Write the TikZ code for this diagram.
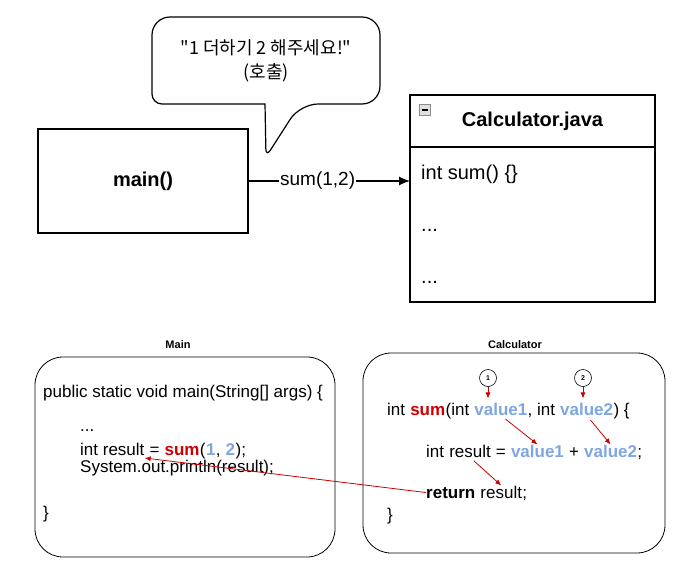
\documentclass[tikz,border=0pt]{standalone}
\usepackage{fontspec}
\setmainfont{Liberation Sans}
\newfontfamily\krfont{Noto Sans CJK KR}
\usetikzlibrary{positioning,arrows.meta}
\definecolor{sumred}{RGB}{204,0,0}
\definecolor{valblue}{RGB}{126,166,224}
\newcommand\codefont{\fontsize{17}{20}\selectfont}
\newcommand\bigfont{\fontsize{20}{24}\selectfont}
\newcommand\wordgap{\kern\fontdimen2\font}
\tikzset{box/.style={
    rectangle,
    draw,
    line width=1.2pt,
    outer sep=0pt
  },
  frame/.style={rectangle,draw,line width=0.8pt,rounded corners=28pt},
  code/.style={font=\codefont,inner sep=0pt,anchor=base west},
  redword/.style={code,text=sumred,font=\codefont\bfseries},
  blueword/.style={code,text=valblue,font=\codefont\bfseries},
  item/.style={font=\bigfont,inner sep=0pt,anchor=base west},
  flow/.style={sumred,line width=0.8pt,-{Latex[length=6pt,width=5pt]}},
  numcirc/.style={circle,draw,line width=0.6pt,minimum size=17pt,inner sep=0pt,
    font=\fontsize{7}{8}\selectfont\bfseries},
  caption/.style={font=\fontsize{11}{13}\selectfont\bfseries},
}

\begin{document}
\begin{tikzpicture}[x=1pt,y=-1pt]
  \useasboundingbox (0,0) rectangle (677,562);
  % speech bubble
  \draw[line width=1.2pt,rounded corners=18pt] (266,17) -- (380,17) -- (380,104)
    -- (300,104) [rounded corners=8pt] -- (266,157) [sharp corners] -- (265,104)
    [rounded corners=10pt] -- (152,104) [rounded corners=18pt] -- (152,17) -- cycle;
  \node[align=center,font=\krfont\fontsize{18}{24}\selectfont] (bubbletxt) at (266,61)
    {"1 더하기 2 해주세요!"\\(호출)};

  % main() and the class box
  \node[box,minimum width=210pt,minimum height=104pt,font=\bigfont\bfseries] (mainbox) at (143,181) {main()};
  \node[box,minimum width=245pt,minimum height=52pt,font=\bigfont\bfseries] (calchead) at (532.5,121) {Calculator.java};
  \node[box,minimum width=245pt,minimum height=155pt,below=0pt of calchead] (calcbody) {};
  \node[draw=black!45,fill=black!12,line width=0.8pt,minimum size=11pt,inner sep=0pt] (collapse) at (425,110) {};
  \draw[line width=1.4pt] ([xshift=2.5pt]collapse.west) -- ([xshift=-2.5pt]collapse.east);
  \node[item] (calcsum) at (421,179) {int sum() \{\}};
  \node[item] (calcdotsa) at (421,231) {...};
  \node[item] (calcdotsb) at (421,283) {...};
  \draw[line width=1.2pt,-{Latex[length=11pt,width=9pt]}] (mainbox.east) -- (mainbox.east -| calcbody.west)
    node[pos=0.43,fill=white,inner sep=1pt,font=\fontsize{19}{22}\selectfont] (calllabel) {sum(1,2)};

  % Main
  \node[caption] (maincap) at (178,345) {Main};
  \node[frame,minimum width=300pt,minimum height=200pt] (mainframe) at (185,457) {};
  \node[code] (mhead) at (43,397) {public static void main(String[] args) \{};
  \node[code] (mdots) at (80,431) {...};
  \node[code] (mres) at (80,455) {int result};
  \node[code] (meq) at (mres.base east) {\wordgap=\wordgap};
  \node[redword] (msum) at (meq.base east) {sum};
  \node[code] (mopen) at (msum.base east) {(};
  \node[blueword] (mone) at (mopen.base east) {1};
  \node[code] (mcomma) at (mone.base east) {,\wordgap};
  \node[blueword] (mtwo) at (mcomma.base east) {2};
  \node[code] (mclose) at (mtwo.base east) {);};
  \node[code] (mprint) at (80,472) {System.out.println(result);};
  \node[code] (mend) at (43,518) {\}};

  % Calculator
  \node[caption] (calccap) at (515,345) {Calculator};
  \node[frame,minimum width=302pt,minimum height=200pt] (calcframe) at (514,453) {};
  \node[code] (csig) at (387,415) {int\wordgap};
  \node[redword] (csum) at (csig.base east) {sum};
  \node[code] (csigp) at (csum.base east) {(int\wordgap};
  \node[blueword] (csigv1) at (csigp.base east) {value1};
  \node[code] (csigc) at (csigv1.base east) {, int\wordgap};
  \node[blueword] (csigv2) at (csigc.base east) {value2};
  \node[code] (csigend) at (csigv2.base east) {) \{};
  \node[code] (cbint) at (426,457) {int\wordgap};
  \node[code] (cbres) at (cbint.base east) {result};
  \node[code] (cbeq) at (cbres.base east) {\wordgap=\wordgap};
  \node[blueword] (cbv1) at (cbeq.base east) {value1};
  \node[code] (cbplus) at (cbv1.base east) {\wordgap+\wordgap};
  \node[blueword] (cbv2) at (cbplus.base east) {value2};
  \node[code] (cbsemi) at (cbv2.base east) {;};
  \node[code,font=\codefont\bfseries] (cret) at (426,498) {return\wordgap};
  \node[code] (cretres) at (cret.base east) {result};
  \node[code] (cretsemi) at (cretres.base east) {;};
  \node[code] (cend) at (387,520) {\}};
  \node[numcirc] (argone) at (488,378) {1};
  \node[numcirc] (argtwo) at (583,378) {2};

  \draw[flow,shorten >=4pt] (argone) -- (argone |- csigv1.north);
  \draw[flow,shorten >=4pt] (argtwo) -- (argtwo |- csigv2.north);
  \draw[flow,shorten <=6pt] (csigv1.south) -- (cbv1.north);
  \draw[flow,shorten <=6pt] (csigv2.south) -- (cbv2.north);
  \draw[flow,shorten <=5pt] (cbres.south) -- (cretres.north);
  \draw[flow] (cret.west) -- ([yshift=-3pt]mres.base east);
\end{tikzpicture}
\end{document}
